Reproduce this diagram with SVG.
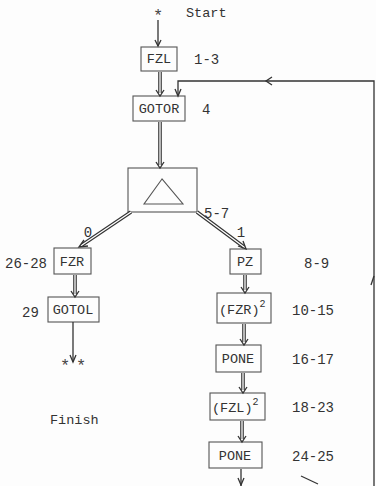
<svg xmlns="http://www.w3.org/2000/svg" width="376" height="486" viewBox="0 0 376 486">
<defs>
<style>
.box{fill:none;stroke:#555;stroke-width:1.1}
.t{font-family:"Liberation Mono","DejaVu Sans Mono",monospace;font-size:13.5px;fill:#333}
.n{font-family:"Liberation Mono","DejaVu Sans Mono",monospace;font-size:14px;fill:#333}
.ast{font-family:"Liberation Mono","DejaVu Sans Mono",monospace;font-size:17px;fill:#444}
.sup{font-size:10px}
.o{stroke:#333;stroke-width:3.6;fill:none}
.i{stroke:#fff;stroke-width:1.3;fill:none}
.s{stroke:#333;stroke-width:1.3;fill:none}
.ah{stroke:#333;stroke-width:1.3;fill:none;stroke-linejoin:miter}
</style>
</defs>
<rect width="376" height="486" fill="#fdfdfd"/>
<g id="start"><text class="ast" x="158" y="21" text-anchor="middle">*</text><text class="t" x="186" y="17">Start</text></g>
<g id="fzl"><rect class="box" x="141" y="47" width="36" height="24"/><text class="t" x="159" y="63" text-anchor="middle">FZL</text><text class="n" x="194" y="64">1-3</text></g>
<g id="gotor"><rect class="box" x="133" y="96" width="52" height="25"/><text class="t" x="159" y="113" text-anchor="middle">GOTOR</text><text class="n" x="202" y="114">4</text></g>
<g id="decision"><rect class="box" x="128" y="168" width="69" height="44"/><path class="box" d="M162 179 L144 204 L183 204 Z" stroke-width="1.4"/><text class="n" x="204" y="218">5-7</text></g>
<g id="fzr"><rect class="box" x="54" y="248" width="37" height="26"/><text class="t" x="72" y="266" text-anchor="middle">FZR</text><text class="n" x="5" y="268">26-28</text></g>
<g id="gotol"><rect class="box" x="48" y="297" width="51" height="25"/><text class="t" x="73" y="314" text-anchor="middle">GOTOL</text><text class="n" x="22" y="317">29</text></g>
<g id="finish"><text class="ast" x="65" y="371" text-anchor="middle">*</text><text class="ast" x="81" y="371" text-anchor="middle">*</text><text class="t" x="50" y="424">Finish</text></g>
<g id="pz"><rect class="box" x="230" y="249" width="31" height="25"/><text class="t" x="245" y="266" text-anchor="middle">PZ</text><text class="n" x="304" y="268">8-9</text></g>
<g id="fzr2"><rect class="box" x="217" y="293" width="54" height="30"/><text class="t" x="219" y="314">(FZR)<tspan class="sup" dy="-7">2</tspan></text><text class="n" x="292" y="315">10-15</text></g>
<g id="pone1"><rect class="box" x="216" y="345" width="45" height="27"/><text class="t" x="238" y="363" text-anchor="middle">PONE</text><text class="n" x="292" y="364">16-17</text></g>
<g id="fzl2"><rect class="box" x="210" y="393" width="55" height="27"/><text class="t" x="212" y="412">(FZL)<tspan class="sup" dy="-7">2</tspan></text><text class="n" x="292" y="412">18-23</text></g>
<g id="pone2"><rect class="box" x="209" y="442" width="53" height="26"/><text class="t" x="235" y="460" text-anchor="middle">PONE</text><text class="n" x="292" y="461">24-25</text></g>
<g id="labels"><text class="n" x="88" y="237" text-anchor="middle">0</text><text class="n" x="241" y="237" text-anchor="middle">1</text></g>
<g id="connectors">
<path class="s" d="M158 20 V46"/><path class="ah" d="M155 40 L158 46 L161 40"/>
<path class="o" d="M160 72 V93"/><path class="i" d="M160 72 V93"/><path class="ah" d="M156 90 L160 96 L164 90"/>
<path class="o" d="M160 122 V165"/><path class="i" d="M160 122 V165"/><path class="ah" d="M156 162 L160 168 L164 162"/>
<path class="o" d="M131 212 L82 245"/><path class="i" d="M131 212 L82 245"/><path class="ah" d="M84 240 L79 247 L88 246"/>
<path class="o" d="M197 212 L244 247"/><path class="i" d="M197 212 L244 247"/><path class="ah" d="M238 246 L246 249 L243 241"/>
<path class="o" d="M75 275 V294"/><path class="i" d="M75 275 V294"/><path class="ah" d="M71 291 L75 297 L79 291"/>
<path class="s" d="M73 322 V362"/><path class="ah" d="M70 355 L73 362 L76 355"/>
<path class="o" d="M245 275 V290"/><path class="i" d="M245 275 V290"/><path class="ah" d="M241 287 L245 293 L249 287"/>
<path class="o" d="M244 324 V342"/><path class="i" d="M244 324 V342"/><path class="ah" d="M240 339 L244 345 L248 339"/>
<path class="o" d="M243 373 V390"/><path class="i" d="M243 373 V390"/><path class="ah" d="M239 387 L243 393 L247 387"/>
<path class="o" d="M242 421 V439"/><path class="i" d="M242 421 V439"/><path class="ah" d="M238 436 L242 442 L246 436"/>
<path class="s" d="M241 469 V486"/><path class="ah" d="M238 478 L241 485 L244 478"/>
<path class="s" d="M374 486 V81 H178 V95"/><path class="ah" d="M175 89 L178 96 L181 89"/>
<path class="ah" d="M272 77 L266 81 L272 85"/>
<path class="s" d="M371 285 L374 276"/>
<path class="s" d="M301 476 L318 484"/>
</g>
</svg>
